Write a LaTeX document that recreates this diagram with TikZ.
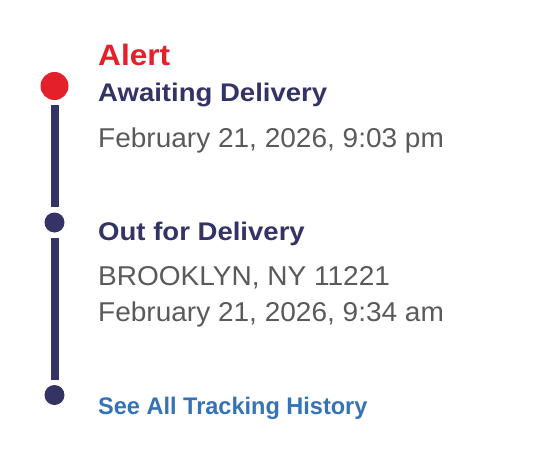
\documentclass[tikz,border=0pt]{standalone}
\usepackage{fontspec}
\setmainfont{Liberation Sans}
\definecolor{alertred}{HTML}{E4202A}
\definecolor{navy}{HTML}{333366}
\definecolor{txtgray}{HTML}{5A5A5A}
\definecolor{linkblue}{HTML}{3573B9}
\begin{document}
\begin{tikzpicture}[x=1pt,y=-1pt,
  dot/.style={circle,fill=navy,draw=none,inner sep=0pt,minimum size=20pt,outer sep=5.5pt},
  reddot/.style={circle,fill=alertred,draw=none,inner sep=0pt,minimum size=28pt,outer sep=5pt},
  track/.style={draw=navy,line width=8pt},
  lbl/.style={anchor=base west,inner sep=0pt},
  alerttxt/.style={lbl,text=alertred,font=\fontsize{29.5}{34}\selectfont\bfseries,xscale=1.07},
  headtxt/.style={lbl,text=navy,font=\fontsize{25.5}{30}\selectfont\bfseries,xscale=1.08},
  bodytxt/.style={lbl,text=txtgray,font=\fontsize{27.2}{32}\selectfont,xscale=1.03},
  linktxt/.style={lbl,text=linkblue,font=\fontsize{24}{28}\selectfont\bfseries,xscale=0.98}]
\useasboundingbox[fill=white] (0,0) rectangle (546,464);
\node[reddot] (d1) at (54.5,86) {};
\node[dot] (d2) at (54.5,222.5) {};
\node[dot] (d3) at (54.5,395) {};
\draw[track] (d1) -- (d2);
\draw[track] (d2) -- (d3);
\node[alerttxt] (alert) at (98,65) {Alert};
\node[headtxt] (await) at (98,101) {Awaiting Delivery};
\node[bodytxt] (date1) at (98,147) {February 21, 2026, 9:03 pm};
\node[headtxt] (out) at (98,240) {Out for Delivery};
\node[bodytxt] (city) at (98,285.5) {BROOKLYN, NY 11221};
\node[bodytxt] (date2) at (98,321) {February 21, 2026, 9:34 am};
\node[linktxt] (link) at (98,414) {See All Tracking History};
\end{tikzpicture}
\end{document}
